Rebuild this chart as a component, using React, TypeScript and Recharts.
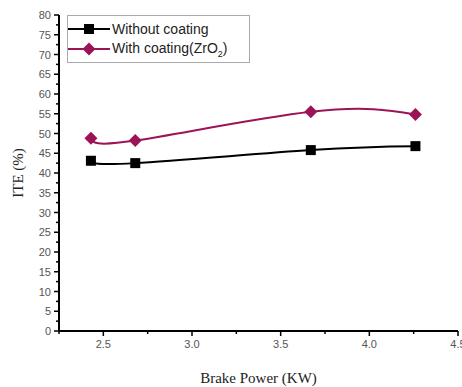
import React from 'react';
import { LineChart, Line, XAxis, YAxis, Label } from 'recharts';

const brakePower = [2.43, 2.68, 3.67, 4.26];
const withoutCoating = [43.1, 42.5, 45.8, 46.8];
const withCoating = [48.8, 48.2, 55.5, 54.8];

const xTicks = [2.25, 2.5, 2.75, 3.0, 3.25, 3.5, 3.75, 4.0, 4.25, 4.5];
const yTicks = [
  0, 2.5, 5, 7.5, 10, 12.5, 15, 17.5, 20, 22.5, 25, 27.5, 30, 32.5, 35, 37.5, 40,
  42.5, 45, 47.5, 50, 52.5, 55, 57.5, 60, 62.5, 65, 67.5, 70, 72.5, 75, 77.5, 80,
];

const PURPLE = '#9c1458';
const TICK_FONT = 'Arial, "Liberation Sans", sans-serif';
const LABEL_FONT = '"Times New Roman", "Liberation Serif", serif';

const data = brakePower.map((bp, i) => ({
  bp,
  without: withoutCoating[i],
  with: withCoating[i],
}));

const YTick = (props: any) => {
  const { x, y, payload } = props;
  const major = payload.value % 5 === 0;
  return (
    <g>
      <line x1={x} x2={x - (major ? 5 : 3)} y1={y} y2={y} stroke="#000" strokeWidth={1.5} />
      {major && (
        <text x={x - 8} y={y} dy={4} textAnchor="end" fontSize={11} fill="#555" fontFamily={TICK_FONT}>
          {payload.value}
        </text>
      )}
    </g>
  );
};

const XTick = (props: any) => {
  const { x, y, payload } = props;
  const major = Math.abs((payload.value * 2) % 1) < 1e-6;
  return (
    <g>
      <line x1={x} x2={x} y1={y} y2={y + (major ? 5 : 3)} stroke="#000" strokeWidth={1.5} />
      {major && (
        <text x={x} y={y + 17} textAnchor="middle" fontSize={11} fill="#555" fontFamily={TICK_FONT}>
          {payload.value.toFixed(1)}
        </text>
      )}
    </g>
  );
};

const Square = (props: any) => {
  const { cx, cy, index } = props;
  return <rect key={index} x={cx - 5} y={cy - 5} width={10} height={10} fill="#000" />;
};

const Diamond = (props: any) => {
  const { cx, cy, index } = props;
  return (
    <path
      key={index}
      d={`M${cx},${cy - 6.5} L${cx + 6.5},${cy} L${cx},${cy + 6.5} L${cx - 6.5},${cy} Z`}
      fill={PURPLE}
    />
  );
};

function Legend() {
  const row = (label: React.ReactNode, color: string, marker: 'sq' | 'dm') => (
    <div style={{ display: 'flex', alignItems: 'center', height: 20 }}>
      <svg width={42} height={14} style={{ marginRight: 2 }}>
        <line x1={0} x2={42} y1={7} y2={7} stroke={color} strokeWidth={2} />
        {marker === 'sq' ? (
          <rect x={16} y={2} width={10} height={10} fill={color} />
        ) : (
          <path d="M21,0.5 L27.5,7 L21,13.5 L14.5,7 Z" fill={color} />
        )}
      </svg>
      <span>{label}</span>
    </div>
  );
  return (
    <div
      style={{
        position: 'absolute',
        left: 67,
        top: 15,
        width: 183,
        height: 48,
        border: '1px solid #aaa',
        fontFamily: TICK_FONT,
        fontSize: 14,
        color: '#222',
        padding: '3px 0 0 0',
        boxSizing: 'border-box',
      }}
    >
      {row('Without coating', '#000', 'sq')}
      {row(
        <span>
          With coating(ZrO<sub style={{ fontSize: 9 }}>2</sub>)
        </span>,
        PURPLE,
        'dm'
      )}
    </div>
  );
}

export default function App() {
  return (
    <div style={{ position: 'absolute', left: 0, top: 0, width: 462, height: 387, background: '#fff' }}>
      <LineChart width={462} height={387} data={data} margin={{ top: 15, right: 4, bottom: 0, left: 0 }}>
        <XAxis
          dataKey="bp"
          type="number"
          domain={[2.25, 4.5]}
          ticks={xTicks}
          interval={0}
          height={56}
          tickSize={0}
          tickMargin={0}
          tickLine={false}
          tick={<XTick />}
          axisLine={{ stroke: '#000', strokeWidth: 2 }}
        >
          <Label
            value="Brake Power (KW)"
            position="insideBottom"
            offset={4}
            style={{ fontFamily: LABEL_FONT, fontSize: 15, fill: '#222' }}
          />
        </XAxis>
        <YAxis
          type="number"
          domain={[0, 80]}
          ticks={yTicks}
          interval={0}
          width={59}
          tickSize={0}
          tickMargin={0}
          tickLine={false}
          tick={<YTick />}
          axisLine={{ stroke: '#000', strokeWidth: 2 }}
        >
          <Label
            value="ITE (%)"
            angle={-90}
            position="insideLeft"
            offset={18}
            style={{ fontFamily: LABEL_FONT, fontSize: 15, fill: '#222', textAnchor: 'middle' }}
          />
        </YAxis>
        <Line
          type="natural"
          dataKey="without"
          stroke="#000"
          strokeWidth={2}
          dot={<Square />}
          activeDot={false}
          isAnimationActive={false}
        />
        <Line
          type="natural"
          dataKey="with"
          stroke={PURPLE}
          strokeWidth={2}
          dot={<Diamond />}
          activeDot={false}
          isAnimationActive={false}
        />
      </LineChart>
      <Legend />
    </div>
  );
}
